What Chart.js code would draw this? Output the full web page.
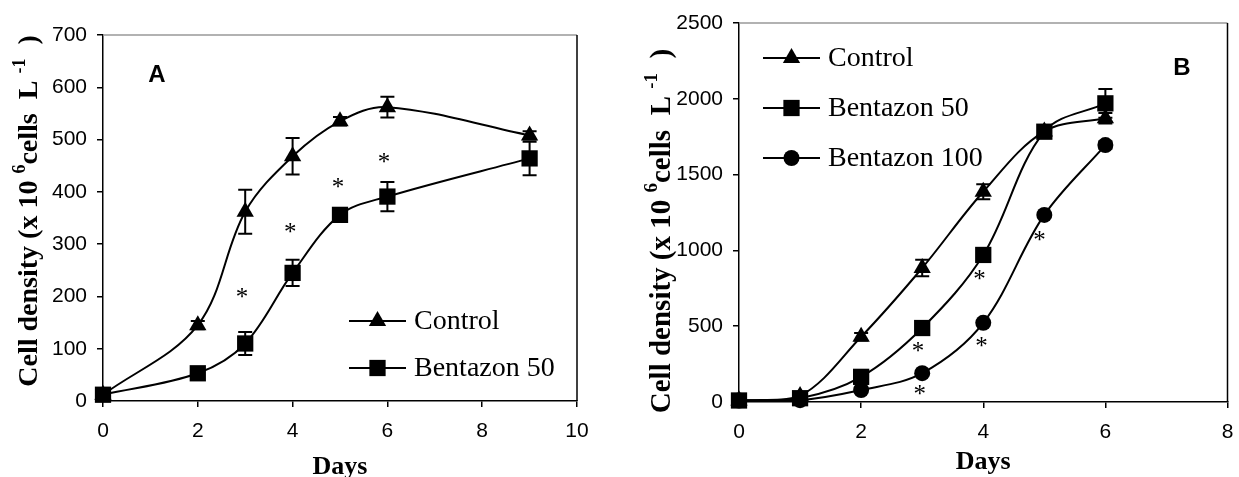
<!DOCTYPE html>
<html>
<head>
<meta charset="utf-8">
<script src="https://cdn.jsdelivr.net/npm/chart.js@4"></script>
<style>
    html, body { margin: 0; padding: 0; background: #fff; }
    #wrap { position: relative; width: 1239px; height: 477px; overflow: hidden; }
    .panel { position: absolute; top: 0; height: 477px; }
</style>
</head>
<body>
<div id="wrap">
    <div class="panel" style="left:0;width:610px"><canvas id="chart-a" width="610" height="477"></canvas></div>
    <div class="panel" style="left:610px;width:629px"><canvas id="chart-b" width="629" height="477"></canvas></div>
</div>
<script>
// ===== DATOS: PANEL A =====
const daysA = [0, 2, 3, 4, 5, 6, 9];
const controlA = [12, 145, 362, 468, 535, 562, 508];
const controlErrA = [0, 8, 42, 35, 8, 20, 8];
const bentazon50A = [12, 53, 110, 245, 356, 391, 464];
const bentazon50ErrA = [0, 0, 22, 25, 0, 28, 32];
const starsAx = [2.93, 3.95, 4.96, 5.93];
const starsAy = [206, 330, 417, 464];
const xTicksA = [0, 2, 4, 6, 8, 10];
const yTicksA = [0, 100, 200, 300, 400, 500, 600, 700];

// ===== DATOS: PANEL B =====
const daysB = [0, 1, 2, 3, 4, 5, 6];
const controlB = [10, 40, 430, 884, 1387, 1785, 1872];
const controlErrB = [0, 0, 25, 55, 50, 0, 35];
const bentazon50B = [10, 25, 166, 488, 970, 1783, 1970];
const bentazon50ErrB = [0, 0, 0, 0, 0, 0, 95];
const bentazon100B = [10, 12, 79, 190, 522, 1234, 1695];
const bentazon100ErrB = [0, 0, 0, 0, 0, 0, 25];
const starsBx = [2.93, 2.96, 3.94, 3.97, 4.92];
const starsBy = [363, 79, 838, 396, 1095];
const xTicksB = [0, 2, 4, 6, 8];
const yTicksB = [0, 500, 1000, 1500, 2000, 2500];

const SANS = 'Liberation Sans, Arial, sans-serif';
const SERIF = 'Liberation Serif, Times New Roman, serif';

// ===== MARCADORES (misma geometría que Chart.js) =====
function drawMarker(ctx, style, x, y, r) {
    ctx.beginPath();
    if (style === 'triangle') {
        ctx.moveTo(x, y - r);
        ctx.lineTo(x + r * Math.sin(Math.PI / 3), y + r / 2);
        ctx.lineTo(x - r * Math.sin(Math.PI / 3), y + r / 2);
        ctx.closePath();
    } else if (style === 'rect') {
        const s = Math.SQRT1_2 * r;
        ctx.rect(x - s, y - s, 2 * s, 2 * s);
    } else {
        ctx.arc(x, y, r, 0, Math.PI * 2);
    }
    ctx.fill();
}

// texto con superíndices, centrado y girado
function drawRuns(ctx, runs, cx, cy, size) {
    const supSize = Math.round(size * 0.66);
    let total = 0;
    runs.forEach(r => {
        ctx.font = `bold ${r.sup ? supSize : size}px ${SERIF}`;
        total += ctx.measureText(r.t).width;
    });
    ctx.save();
    ctx.translate(cx, cy);
    ctx.rotate(-Math.PI / 2);
    ctx.textAlign = 'left';
    ctx.textBaseline = 'alphabetic';
    let x = -total / 2;
    const base = size * 0.33;
    runs.forEach(r => {
        ctx.font = `bold ${r.sup ? supSize : size}px ${SERIF}`;
        ctx.fillText(r.t, x, r.sup ? base - size * 0.42 : base);
        x += ctx.measureText(r.t).width;
    });
    ctx.restore();
}

const yTitleRuns = [
    { t: 'Cell density (x 10 ', sup: false },
    { t: '6', sup: true },
    { t: 'cells  L ', sup: false },
    { t: '-1', sup: true },
    { t: '  )', sup: false },
];

// ===== PLUGIN DEL PANEL =====
function panelPlugin(p) {
    return {
        id: 'panel-' + p.letter,
        beforeDatasetsDraw(chart) {
            const ctx = chart.ctx;
            const xs = chart.scales.x, ys = chart.scales.y;
            ctx.save();
            ctx.strokeStyle = '#000';
            ctx.lineWidth = 2;
            p.series.forEach(s => {
                s.errors.forEach((e, i) => {
                    if (!e) return;
                    const x = xs.getPixelForValue(p.days[i]);
                    const y1 = ys.getPixelForValue(s.values[i] + e);
                    const y2 = ys.getPixelForValue(s.values[i] - e);
                    ctx.beginPath();
                    ctx.moveTo(x, y1); ctx.lineTo(x, y2);
                    ctx.moveTo(x - 7, y1); ctx.lineTo(x + 7, y1);
                    ctx.moveTo(x - 7, y2); ctx.lineTo(x + 7, y2);
                    ctx.stroke();
                });
            });
            ctx.restore();
        },
        afterDraw(chart) {
            const ctx = chart.ctx;
            const a = chart.chartArea;
            const xs = chart.scales.x, ys = chart.scales.y;
            ctx.save();
            // marco superior y derecho
            ctx.lineWidth = 1.5;
            ctx.strokeStyle = '#999';
            ctx.beginPath(); ctx.moveTo(a.left, a.top); ctx.lineTo(a.right, a.top); ctx.stroke();
            ctx.strokeStyle = '#000';
            ctx.beginPath(); ctx.moveTo(a.right, a.top); ctx.lineTo(a.right, a.bottom); ctx.stroke();

            // asteriscos
            ctx.fillStyle = '#000';
            ctx.font = `25px ${SERIF}`;
            ctx.textAlign = 'center';
            ctx.textBaseline = 'alphabetic';
            p.starsX.forEach((sx, i) => {
                ctx.fillText('*', xs.getPixelForValue(sx), ys.getPixelForValue(p.starsY[i]) + 12);
            });

            // letra del panel
            ctx.font = `bold 24px ${SANS}`;
            ctx.textBaseline = 'middle';
            ctx.fillText(p.letter, p.letterPos[0], p.letterPos[1]);

            // leyenda
            ctx.font = `28px ${SERIF}`;
            ctx.textAlign = 'left';
            p.series.forEach((s, i) => {
                const y = p.legend.rows[i];
                ctx.lineWidth = 2;
                ctx.beginPath();
                ctx.moveTo(p.legend.x1, y); ctx.lineTo(p.legend.x2, y);
                ctx.stroke();
                drawMarker(ctx, s.style, (p.legend.x1 + p.legend.x2) / 2, y, s.radius);
                ctx.fillText(s.label, p.legend.textX, y + 1);
            });

            // títulos de ejes
            ctx.textAlign = 'center';
            ctx.font = `bold 26px ${SERIF}`;
            ctx.fillText('Days', (a.left + a.right) / 2, p.daysY);
            drawRuns(ctx, yTitleRuns, p.yTitlePos[0], p.yTitlePos[1], p.yTitleSize);
            ctx.restore();
        }
    };
}

// ===== CONSTRUCCIÓN DE GRÁFICAS =====
function buildChart(id, p) {
    const datasets = p.series.map(s => ({
        label: s.label,
        data: p.days.map((d, i) => ({ x: d, y: s.values[i] })),
        borderColor: '#000',
        backgroundColor: '#000',
        borderWidth: 2,
        pointStyle: s.style,
        pointRadius: s.radius,
        pointHoverRadius: s.radius,
        pointBorderWidth: 0,
        tension: 0.35,
        clip: false,
    }));

    const tickFont = { family: SANS, size: 21 };

    return new Chart(document.getElementById(id), {
        type: 'line',
        data: { datasets },
        options: {
            responsive: false,
            animation: false,
            events: [],
            layout: { padding: { left: 0, right: p.padRight, top: p.padTop, bottom: 0 } },
            plugins: { legend: { display: false }, tooltip: { enabled: false } },
            scales: {
                x: {
                    type: 'linear',
                    min: p.xTicks[0],
                    max: p.xTicks[p.xTicks.length - 1],
                    afterBuildTicks: s => { s.ticks = p.xTicks.map(v => ({ value: v })); },
                    afterFit: s => { s.height = p.xAxisHeight; s.paddingLeft = 0; s.paddingRight = 0; },
                    grid: { drawOnChartArea: false, tickLength: 6, color: '#000', lineWidth: 1.5 },
                    border: { color: '#000', width: 1.5 },
                    ticks: { color: '#000', font: tickFont, padding: 12, maxRotation: 0, callback: v => String(v) },
                },
                y: {
                    type: 'linear',
                    min: p.yTicks[0],
                    max: p.yTicks[p.yTicks.length - 1],
                    afterBuildTicks: s => { s.ticks = p.yTicks.map(v => ({ value: v })); },
                    afterFit: s => { s.width = p.yAxisWidth; s.paddingTop = 0; s.paddingBottom = 0; },
                    grid: { drawOnChartArea: false, tickLength: 6, color: '#000', lineWidth: 1.5 },
                    border: { color: '#000', width: 1.5 },
                    ticks: { color: '#000', font: tickFont, padding: 10, callback: v => String(v) },
                },
            },
        },
        plugins: [panelPlugin(p)],
    });
}

document.addEventListener('DOMContentLoaded', () => {
    buildChart('chart-a', {
        letter: 'A',
        days: daysA,
        series: [
            { label: 'Control', values: controlA, errors: controlErrA, style: 'triangle', radius: 10 },
            { label: 'Bentazon 50', values: bentazon50A, errors: bentazon50ErrA, style: 'rect', radius: 11.5 },
        ],
        starsX: starsAx, starsY: starsAy,
        xTicks: xTicksA, yTicks: yTicksA,
        padRight: 33, padTop: 35, xAxisHeight: 76, yAxisWidth: 103,
        letterPos: [157, 75],
        legend: { x1: 349, x2: 406, textX: 414, rows: [321, 368] },
        daysY: 467,
        yTitlePos: [28, 211],
        yTitleSize: 28,
    });

    buildChart('chart-b', {
        letter: 'B',
        days: daysB,
        series: [
            { label: 'Control', values: controlB, errors: controlErrB, style: 'triangle', radius: 10 },
            { label: 'Bentazon 50', values: bentazon50B, errors: bentazon50ErrB, style: 'rect', radius: 11.5 },
            { label: 'Bentazon 100', values: bentazon100B, errors: bentazon100ErrB, style: 'circle', radius: 8 },
        ],
        starsX: starsBx, starsY: starsBy,
        xTicks: xTicksB, yTicks: yTicksB,
        padRight: 6, padTop: 23, xAxisHeight: 75, yAxisWidth: 129,
        letterPos: [572, 68],
        legend: { x1: 153, x2: 210, textX: 218, rows: [58, 108, 158] },
        daysY: 462,
        yTitlePos: [50, 231],
        yTitleSize: 29,
    });
});
</script>
</body>
</html>
